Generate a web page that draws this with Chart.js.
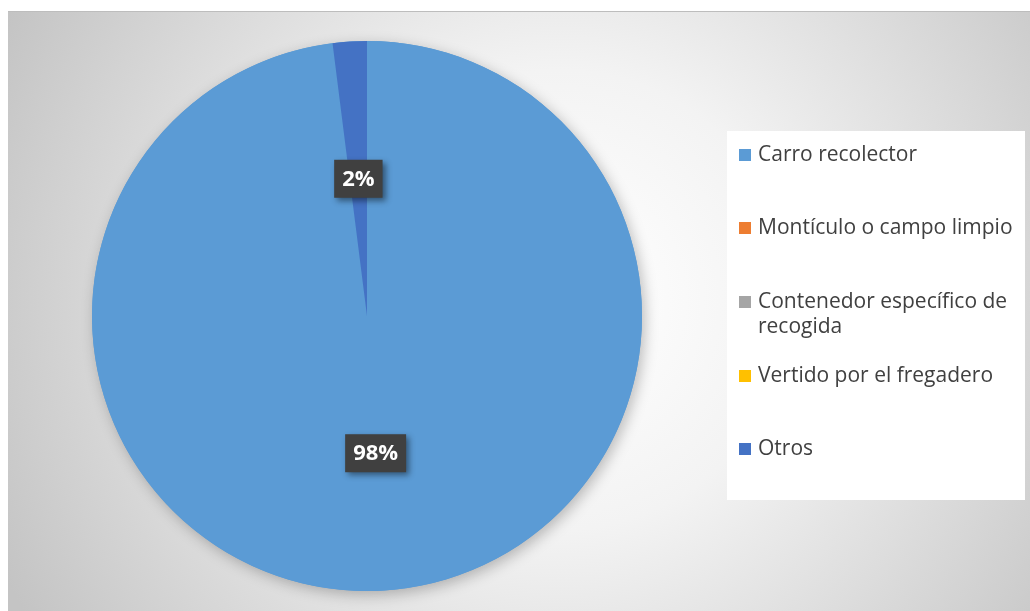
<!DOCTYPE html>
<html>
<head>
<meta charset="utf-8">
<script src="https://cdn.jsdelivr.net/npm/chart.js@4"></script>
<style>
  html, body { margin: 0; padding: 0; background: #fff; }
  #wrap { width: 1030px; height: 611px; position: relative; }
</style>
</head>
<body>
<div id="wrap"><canvas id="pieChart" width="1030" height="611"></canvas></div>
<script>
const labels = ["Carro recolector", "Montículo o campo limpio", "Contenedor específico de recogida", "Vertido por el fregadero", "Otros"];
const legendLines = [["Carro recolector"], ["Montículo o campo limpio"], ["Contenedor específico de", "recogida"], ["Vertido por el fregadero"], ["Otros"]];
const values = [98, 0, 0, 0, 2];
const colors = ["#5B9BD5", "#ED7D31", "#A5A5A5", "#FFC000", "#4472C4"];

// fondo con degradado radial y borde superior
const backgroundPlugin = {
    id: "bg",
    beforeDraw(chart) {
        const ctx = chart.ctx;
        ctx.save();
        const g = ctx.createRadialGradient(560, 300, 20, 560, 300, 620);
        g.addColorStop(0, "#ffffff");
        g.addColorStop(0.35, "#f3f3f3");
        g.addColorStop(1, "#c4c4c4");
        ctx.fillStyle = g;
        ctx.fillRect(8, 11, 1022, 600);
        ctx.fillStyle = "#bdbdbd";
        ctx.fillRect(8, 11, 1022, 1);
        ctx.restore();
    },
    beforeDatasetsDraw(chart) {
        const ctx = chart.ctx;
        const arc = chart.getDatasetMeta(0).data[0];
        ctx.save();
        ctx.shadowColor = "rgba(0,0,0,0.25)";
        ctx.shadowBlur = 14;
        ctx.shadowOffsetX = 3;
        ctx.shadowOffsetY = 4;
        ctx.beginPath();
        ctx.arc(arc.x, arc.y, arc.outerRadius, 0, Math.PI * 2);
        ctx.fillStyle = colors[0];
        ctx.fill();
        ctx.restore();
    }
};

// etiquetas de porcentaje y leyenda
const labelPlugin = {
    id: "labels",
    afterDraw(chart) {
        const ctx = chart.ctx;
        const total = values.reduce((a, b) => a + b, 0);
        ctx.save();
        ctx.font = "bold 22px 'Open Sans', sans-serif";
        ctx.textAlign = "center";
        ctx.textBaseline = "middle";
        chart.getDatasetMeta(0).data.forEach((arc, i) => {
            if (!values[i]) return;
            const p = arc.tooltipPosition();
            const txt = Math.round(values[i] / total * 100) + "%";
            const w = ctx.measureText(txt).width + 16;
            const h = 38;
            ctx.save();
            ctx.shadowColor = "rgba(0,0,0,0.45)";
            ctx.shadowBlur = 6;
            ctx.shadowOffsetX = 3;
            ctx.shadowOffsetY = 3;
            ctx.fillStyle = "#404040";
            ctx.fillRect(p.x - w / 2, p.y - h / 2, w, h);
            ctx.restore();
            ctx.fillStyle = "#ffffff";
            ctx.fillText(txt, p.x, p.y + 1);
        });
        ctx.restore();

        // leyenda
        ctx.save();
        ctx.fillStyle = "#ffffff";
        ctx.fillRect(727, 131, 298, 369);
        ctx.font = "21px 'Open Sans', sans-serif";
        ctx.textAlign = "left";
        ctx.textBaseline = "middle";
        const rows = [155, 228, 302, 376, 449];
        legendLines.forEach((lines, i) => {
            ctx.fillStyle = colors[i];
            ctx.fillRect(739, rows[i] - 6, 12, 12);
            ctx.fillStyle = "#404040";
            lines.forEach((ln, j) => ctx.fillText(ln, 758, rows[i] + j * 25));
        });
        ctx.restore();
    }
};

new Chart(document.getElementById("pieChart"), {
    type: "pie",
    data: {
        labels: labels,
        datasets: [{
            data: values,
            backgroundColor: colors,
            borderWidth: 0
        }]
    },
    options: {
        responsive: false,
        animation: false,
        layout: { padding: { top: 41, bottom: 20, left: 92, right: 388 } },
        plugins: {
            legend: { display: false },
            tooltip: { enabled: false }
        }
    },
    plugins: [backgroundPlugin, labelPlugin]
});
</script>
</body>
</html>
